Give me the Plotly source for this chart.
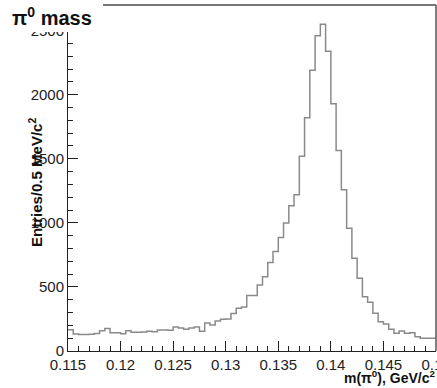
import plotly.graph_objects as go

# Histogram definition: 70 bins of 0.5 MeV from 0.115 to 0.150 GeV
bin_low = 0.115
bin_width = 0.0005
counts = [165, 132, 128, 129, 130, 136, 158, 176, 143, 142,
          134, 158, 146, 146, 148, 155, 150, 163, 163, 162,
          188, 180, 170, 180, 188, 155, 219, 202, 235, 248,
          250, 292, 333, 344, 434, 434, 516, 580, 690, 776,
          885, 998, 1133, 1219, 1520, 1820, 2190, 2460, 2550, 2340,
          1930, 1565, 1258, 958, 724, 568, 424, 380, 294, 229,
          211, 169, 138, 156, 138, 143, 112, 99, 99, 99]

x_ticks = [0.115, 0.12, 0.125, 0.13, 0.135, 0.14, 0.145, 0.15]
x_ticktext = ["0.115", "0.12", "0.125", "0.13", "0.135", "0.14", "0.145", "0.15"]
y_ticks = [0, 500, 1000, 1500, 2000, 2500]
y_ticktext = ["0", "500", "1000", "1500", "2000", "2500"]

edges = [bin_low + bin_width * i for i in range(len(counts) + 1)]
step_y = counts + [counts[-1]]

FONT = "Liberation Sans, Arial, Helvetica, sans-serif"

fig = go.Figure()
fig.add_trace(go.Scatter(
    x=edges, y=step_y, mode="lines", line=dict(shape="hv", color="#8a8a8a", width=1.5),
    hoverinfo="skip", showlegend=False,
))

fig.update_layout(
    width=437, height=388,
    margin=dict(l=68, r=1, t=5, b=37, autoexpand=False),
    paper_bgcolor="white", plot_bgcolor="white",
    font=dict(family=FONT, size=15, color="#222"),
    title=dict(text="π<sup>0</sup> mass", x=12/437, xanchor="left", xref="container",
               y=1 - 18/388, yanchor="middle", yref="container",
               font=dict(family=FONT, size=20, color="#111", weight="bold")),
    xaxis=dict(range=[0.115, 0.15], tickvals=x_ticks, ticktext=x_ticktext,
               ticks="inside", ticklen=10, tickcolor="#222", tickwidth=1,
               showline=True, linecolor="#222", linewidth=1, showgrid=False, zeroline=False,
               ticklabeloverflow="allow", automargin=False,
               minor=dict(dtick=0.001, tick0=0.115, ticks="inside", ticklen=5, tickcolor="#222", showgrid=False),
               tickfont=dict(size=15, color="#222")),
    yaxis=dict(range=[0, 2700], tickvals=y_ticks, ticktext=y_ticktext,
               ticks="inside", ticklen=10, tickcolor="#222", tickwidth=1,
               showline=True, linecolor="#222", linewidth=1, showgrid=False, zeroline=False,
               ticklabeloverflow="allow", automargin=False,
               minor=dict(dtick=100, tick0=0, ticks="inside", ticklen=5, tickcolor="#222", showgrid=False),
               tickfont=dict(size=15, color="#222")),
)

# frame top and right edges
fig.add_shape(type="line", xref="paper", yref="paper", x0=0.09, x1=1, y0=1, y1=1,
              line=dict(color="#777", width=2), layer="above")
fig.add_shape(type="line", xref="paper", yref="paper", x0=1, x1=1, y0=0, y1=1,
              line=dict(color="#555", width=1.5), layer="above")
# white title pad covering the top-left corner
fig.add_shape(type="rect", xref="paper", yref="paper",
              x0=-0.2, x1=(103 - 68) / 368, y0=(351 - 32) / 346, y1=1.05,
              fillcolor="white", line=dict(width=0), layer="above")

fig.add_annotation(text="Entries/0.5 MeV/c<sup>2</sup>", textangle=-90,
                   xref="paper", yref="paper", x=(35 - 68) / 368, y=(351 - 183) / 346,
                   xanchor="center", yanchor="middle", showarrow=False,
                   font=dict(family=FONT, size=15, color="#111", weight="bold"))
fig.add_annotation(text="m(π<sup>0</sup>), GeV/c<sup>2</sup>",
                   xref="paper", yref="paper", x=1.002, y=(351 - 377) / 346,
                   xanchor="right", yanchor="middle", showarrow=False,
                   font=dict(family=FONT, size=14, color="#111", weight="bold"))

fig.write_html("out.html")
